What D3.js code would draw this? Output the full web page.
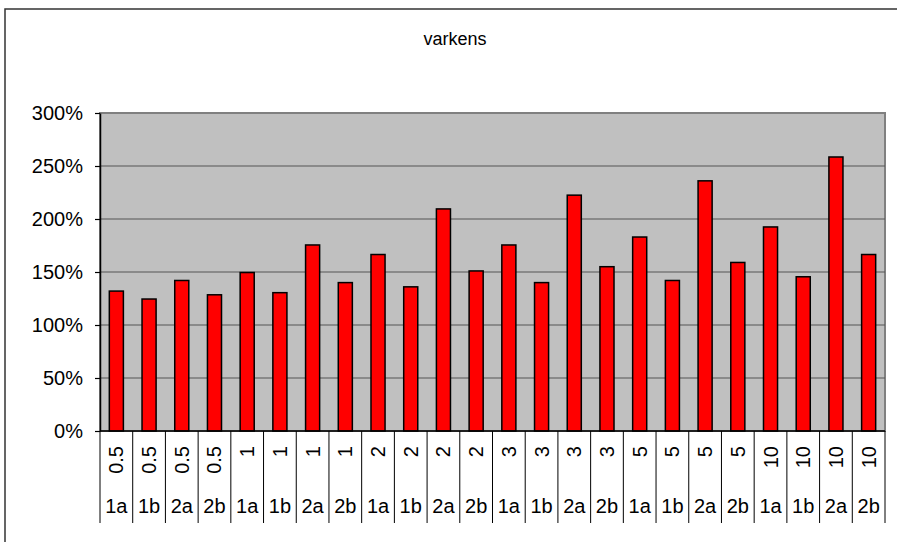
<!DOCTYPE html>
<html>
<head>
<meta charset="utf-8">
<script src="https://cdn.jsdelivr.net/npm/d3@7"></script>
<style>
  body { margin: 0; background: #fff; }
  svg { display: block; font-family: Arial, "Liberation Sans", sans-serif; }
</style>
</head>
<body>
<svg id="chart"></svg>
<script>
// data
const doses = ["0.5", "0.5", "0.5", "0.5", "1", "1", "1", "1", "2", "2", "2", "2",
               "3", "3", "3", "3", "5", "5", "5", "5", "10", "10", "10", "10"];
const groups = ["1a", "1b", "2a", "2b", "1a", "1b", "2a", "2b", "1a", "1b", "2a", "2b",
                "1a", "1b", "2a", "2b", "1a", "1b", "2a", "2b", "1a", "1b", "2a", "2b"];
const values = [132, 124.5, 142, 128.5, 149.5, 130.5, 175.5, 140, 166.5, 136, 209.5, 151,
                175.5, 140, 222.5, 155, 183, 142, 236, 159, 192.5, 145.5, 258.5, 166.5];
const yTicks = [0, 50, 100, 150, 200, 250, 300];
const title = "varkens";

const width = 897;
const height = 542;
const plot = { left: 100, right: 885, top: 113, bottom: 431 };

const svg = d3.select("#chart")
    .attr("width", width)
    .attr("height", height);

// outer chart border (runs off the right and bottom edge)
svg.append("rect")
    .attr("x", 5).attr("y", 9)
    .attr("width", width + 10).attr("height", height + 10)
    .attr("fill", "#fff")
    .attr("stroke", "#333")
    .attr("stroke-width", 1.5);

const idx = d3.range(values.length);

const x = d3.scaleBand()
    .domain(idx)
    .range([plot.left, plot.right])
    .paddingInner(0.57)
    .paddingOuter(0.285);

const y = d3.scaleLinear()
    .domain([0, 300])
    .range([plot.bottom, plot.top]);

// plot background
svg.append("rect")
    .attr("x", plot.left).attr("y", plot.top)
    .attr("width", plot.right - plot.left)
    .attr("height", plot.bottom - plot.top)
    .attr("fill", "#c0c0c0")
    .attr("stroke", "#808080")
    .attr("stroke-width", 2);

// gridlines
svg.append("g")
    .selectAll("line")
    .data(yTicks.filter(d => d > 0))
    .enter()
    .append("line")
    .attr("x1", plot.left).attr("x2", plot.right)
    .attr("y1", d => y(d)).attr("y2", d => y(d))
    .attr("stroke", d => d === 300 ? "#808080" : "#555")
    .attr("stroke-width", d => d === 300 ? 2 : 1.2);

// bars
svg.append("g")
    .selectAll("rect")
    .data(idx)
    .enter()
    .append("rect")
    .attr("x", i => x(i))
    .attr("y", i => y(values[i]))
    .attr("width", x.bandwidth())
    .attr("height", i => y(0) - y(values[i]))
    .attr("fill", "#ff0000")
    .attr("stroke", "#000")
    .attr("stroke-width", 1.5);

// y axis
const yAxis = d3.axisLeft(y)
    .tickValues(yTicks)
    .tickFormat(d => d + "%")
    .tickSizeInner(5)
    .tickSizeOuter(0)
    .tickPadding(12);

const yg = svg.append("g")
    .attr("transform", `translate(${plot.left},0)`)
    .call(yAxis);
yg.select(".domain").attr("stroke", "#000").attr("stroke-width", 1.5);
yg.selectAll(".tick line").attr("stroke", "#000").attr("stroke-width", 1.2);
yg.selectAll(".tick text")
    .attr("fill", "#000")
    .style("font-size", "20px");

// x axis baseline
svg.append("line")
    .attr("x1", plot.left).attr("x2", plot.right)
    .attr("y1", plot.bottom).attr("y2", plot.bottom)
    .attr("stroke", "#000")
    .attr("stroke-width", 1.5);

// category separators
const step = x.step();
const bounds = d3.range(values.length + 1).map(i => plot.left + i * (plot.right - plot.left) / values.length);
svg.append("g")
    .selectAll("line")
    .data(bounds)
    .enter()
    .append("line")
    .attr("x1", d => d).attr("x2", d => d)
    .attr("y1", plot.bottom).attr("y2", 523)
    .attr("stroke", "#000")
    .attr("stroke-width", 1);

// first level labels (rotated)
svg.append("g")
    .selectAll("text")
    .data(idx)
    .enter()
    .append("text")
    .attr("transform", i => `translate(${x(i) + x.bandwidth() / 2},446) rotate(-90)`)
    .attr("text-anchor", "end")
    .attr("dominant-baseline", "central")
    .style("font-size", "20px")
    .text(i => doses[i]);

// second level labels
svg.append("g")
    .selectAll("text")
    .data(idx)
    .enter()
    .append("text")
    .attr("x", i => x(i) + x.bandwidth() / 2)
    .attr("y", 513)
    .attr("text-anchor", "middle")
    .style("font-size", "20px")
    .text(i => groups[i]);

// title
svg.append("text")
    .attr("x", 455)
    .attr("y", 45)
    .attr("text-anchor", "middle")
    .style("font-size", "18px")
    .text(title);
</script>
</body>
</html>
